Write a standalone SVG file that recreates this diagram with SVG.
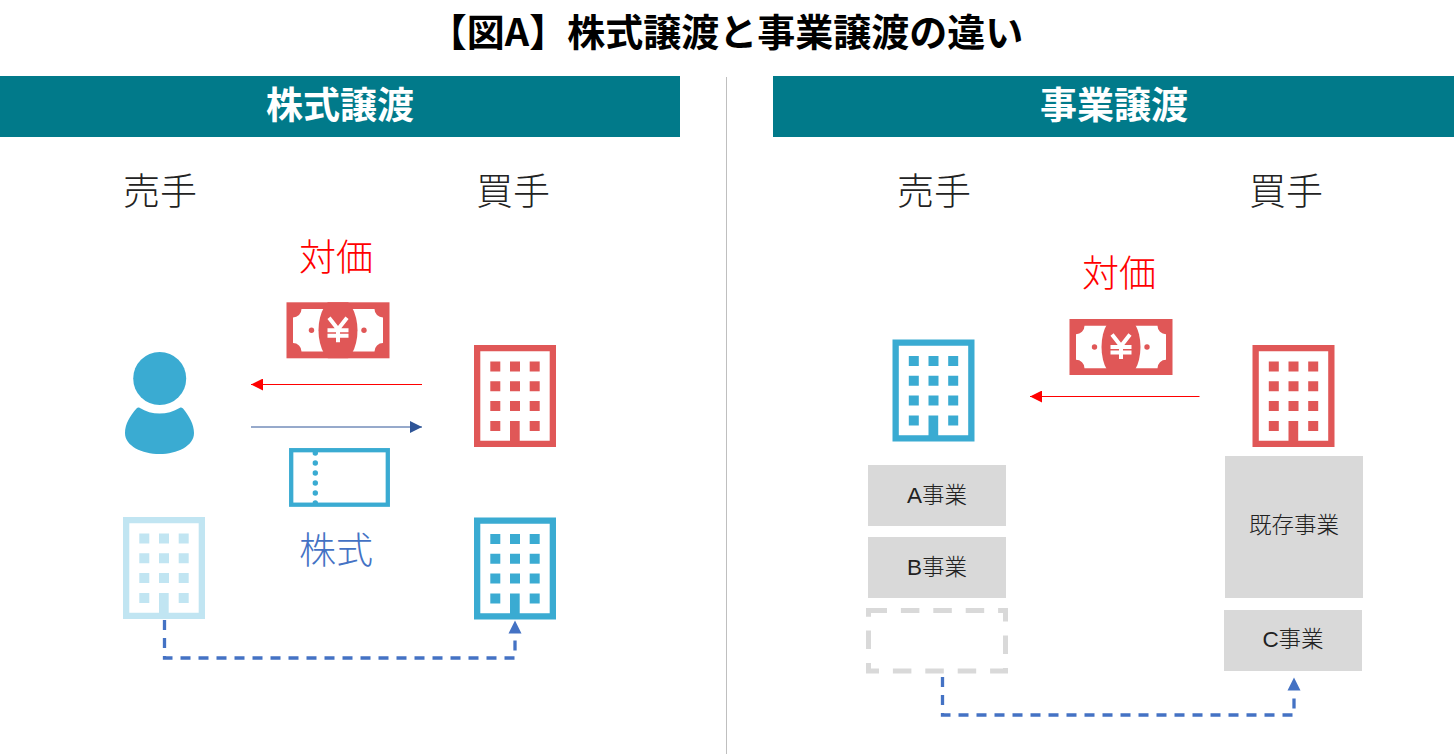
<svg xmlns="http://www.w3.org/2000/svg" width="1454" height="756" viewBox="0 0 1454 756">
<style>
text{font-family:"Noto Sans CJK JP","Liberation Sans",sans-serif;text-anchor:middle}
.title{font-size:38px;font-weight:700;fill:#000}
.head{font-size:37px;font-weight:700;fill:#fff}
.role{font-size:37px;font-weight:300;fill:#222}
.red{font-size:37px;font-weight:300;fill:#f00}
.blue{font-size:37px;font-weight:300;fill:#4472c4}
.biz{font-size:22.500px;font-weight:300;fill:#222;font-family:"Liberation Sans","Noto Sans CJK JP",sans-serif}
.band{fill:#017a8a}
.box{fill:#d9d9d9}
.dash{fill:none;stroke:#4472c4;stroke-width:3.300;stroke-dasharray:10 8}
</style>
<defs>
<clipPath id="note"><rect width="103" height="56"/></clipPath>
<symbol id="bld" viewBox="0 0 82 102" width="82" height="102" overflow="visible">
<path fill-rule="evenodd" d="M0 0H82V102H0ZM6.300 6.300V95.700H36V76H45.700V95.700H75.700V6.300Z"/>
<path d="M16.300 16.500h10v10h-10zM36 16.500h10v10h-10zM55.700 16.500h10v10h-10zM16.300 36.300h10v10h-10zM36 36.300h10v10h-10zM55.700 36.300h10v10h-10zM16.300 56h10v10h-10zM36 56h10v10h-10zM55.700 56h10v10h-10zM16.300 76h10v10h-10zM55.700 76h10v10h-10z"/>
</symbol>
<symbol id="yen" viewBox="0 0 103 56" width="103" height="56" overflow="visible">
<rect width="103" height="56" fill="#e05757"/>
<path fill="#fff" d="M15 6.700H88A8.500 8.500 0 0 0 96.500 15.200V40.800A8.500 8.500 0 0 0 88 49.300H15A8.500 8.500 0 0 0 6.500 40.800V15.200A8.500 8.500 0 0 0 15 6.700Z"/>
<ellipse cx="51.500" cy="28" rx="19.500" ry="33" fill="#e05757" clip-path="url(#note)"/>
<circle cx="25" cy="28" r="2.700" fill="#e05757"/><circle cx="77.500" cy="28" r="2.700" fill="#e05757"/>
<path fill="none" stroke="#fff" stroke-width="4" d="M42.500 15.500L51.500 27L60.500 15.500M51.500 27V40M41 28H62M41 33.500H62"/>
</symbol>
<marker id="mr" markerUnits="userSpaceOnUse" markerWidth="12" markerHeight="12" refX="12" refY="6" orient="auto"><path d="M0 0L12 6L0 12Z" fill="#f00"/></marker>
<marker id="mn" markerUnits="userSpaceOnUse" markerWidth="12" markerHeight="12" refX="12" refY="6" orient="auto"><path d="M0 0L12 6L0 12Z" fill="#2f5597"/></marker>
</defs>
<rect width="1454" height="756" fill="#fff"/>
<g id="title"><text class="title" x="726" y="46">【図A】株式譲渡と事業譲渡の違い</text></g>
<g id="divider"><line x1="726.500" y1="77" x2="726.500" y2="754" stroke="#bfbfbf" stroke-width="1"/></g>
<g id="header-left"><rect class="band" x="0" y="76" width="680" height="61"/><text class="head" x="340" y="119">株式譲渡</text></g>
<g id="header-right"><rect class="band" x="773" y="76" width="681" height="61"/><text class="head" x="1114" y="119">事業譲渡</text></g>
<g id="label-seller-left"><text class="role" x="160" y="205">売手</text></g>
<g id="label-buyer-left"><text class="role" x="513" y="205">買手</text></g>
<g id="label-seller-right"><text class="role" x="934" y="205">売手</text></g>
<g id="label-buyer-right"><text class="role" x="1286" y="205">買手</text></g>
<g id="label-price-left"><text class="red" x="336" y="271">対価</text></g>
<g id="label-price-right"><text class="red" x="1119" y="287">対価</text></g>
<g id="label-stock"><text class="blue" x="336" y="564">株式</text></g>
<g id="money-left"><use href="#yen" x="286.500" y="302.300"/></g>
<g id="money-right"><use href="#yen" x="1069.500" y="319"/></g>
<g id="person" fill="#3aabd2"><circle cx="159.700" cy="378.500" r="26.500"/><path d="M139.500 407.700C152 415.500 167 415.500 180 407.700C181 407.300 182 407.500 183 408.500C189 416 194 424 194 433C194 446 177 454 159.700 454C142 454 125 446 125 433C125 424 130 416 136.500 408.500C137.300 407.500 138.500 407.300 139.500 407.700Z"/></g>
<g id="ticket"><rect x="291.200" y="450.200" width="96.600" height="54.500" fill="none" stroke="#3aabd2" stroke-width="4.300"/><g fill="#3aabd2"><circle cx="315.300" cy="453" r="2.700"/><circle cx="315.300" cy="463" r="2.700"/><circle cx="315.300" cy="473" r="2.700"/><circle cx="315.300" cy="483" r="2.700"/><circle cx="315.300" cy="493" r="2.700"/><circle cx="315.300" cy="503" r="2.700"/></g></g>
<g id="building-buyer-red-left" fill="#e05757"><use href="#bld" x="474" y="345"/></g>
<g id="building-faded" fill="#c1e5f2"><use href="#bld" x="123" y="517"/></g>
<g id="building-buyer-blue" fill="#3aabd2"><use href="#bld" x="474" y="517.500"/></g>
<g id="building-seller-right" fill="#3aabd2"><use href="#bld" x="892.500" y="339.500"/></g>
<g id="building-buyer-right" fill="#e05757"><use href="#bld" x="1252.500" y="345"/></g>
<g id="biz-a"><rect class="box" x="868" y="465" width="138" height="61"/><text class="biz" x="937" y="502.500">A事業</text></g>
<g id="biz-b"><rect class="box" x="868" y="537" width="138" height="61"/><text class="biz" x="937" y="574.500">B事業</text></g>
<g id="biz-empty"><rect x="868.500" y="610.500" width="137" height="60.500" fill="none" stroke="#d9d9d9" stroke-width="5" stroke-dasharray="18.500 13.900"/></g>
<g id="biz-existing"><rect class="box" x="1225" y="456" width="138" height="142"/><text class="biz" x="1294" y="533">既存事業</text></g>
<g id="biz-c"><rect class="box" x="1224" y="610" width="138" height="61"/><text class="biz" x="1293" y="647">C事業</text></g>
<g id="connectors">
<line x1="422" y1="384.500" x2="251" y2="384.500" stroke="#f00" stroke-width="1" marker-end="url(#mr)"/>
<line x1="251" y1="427" x2="422" y2="427" stroke="#2f5597" stroke-width="1" marker-end="url(#mn)"/>
<line x1="1199.500" y1="396.500" x2="1030" y2="396.500" stroke="#f00" stroke-width="1" marker-end="url(#mr)"/>
<path class="dash" d="M164.500 620V658H515V633"/>
<path d="M515 620.500L521.500 633.500H508.500Z" fill="#4472c4"/>
<path class="dash" d="M942.500 677V715H1294V691"/>
<path d="M1294 677.500L1300.500 690.500H1287.500Z" fill="#4472c4"/>
</g>
</svg>
